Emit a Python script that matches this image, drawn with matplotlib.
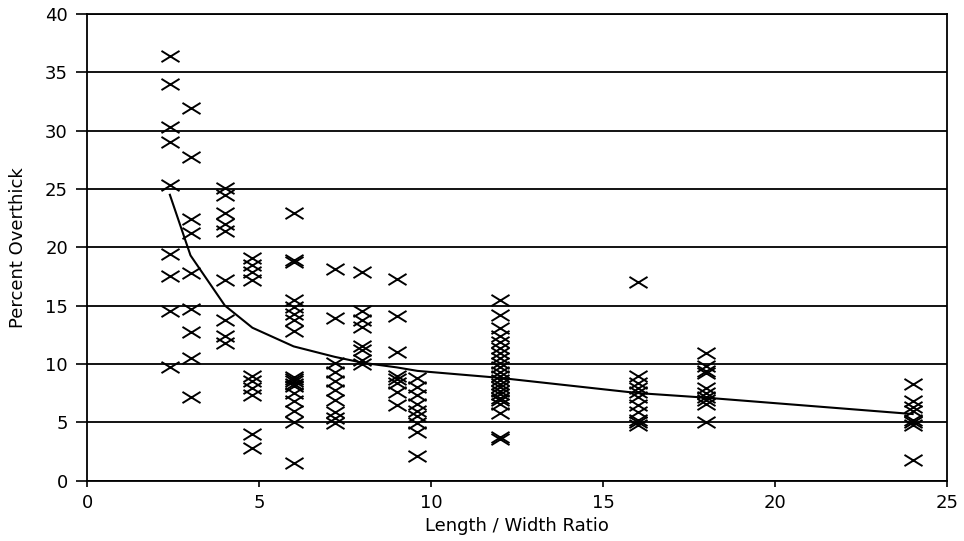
#overthick_ratio.py

from matplotlib import pyplot as plt
from matplotlib.path import Path
import numpy as np

# length / width ratio of each group of samples
ratios = [2.4, 3, 4, 4.8, 6, 7.2, 8, 9, 9.6, 12, 16, 18, 24]

# percent overthick measured at each ratio
pct_2_4 = [36.4, 34.0, 30.3, 29.0, 25.3, 19.4, 17.5, 14.5, 9.7]
pct_3 = [31.9, 27.7, 22.4, 21.2, 17.8, 14.7, 12.7, 10.5, 7.2]
pct_4 = [25.1, 24.5, 22.9, 22.0, 21.4, 17.2, 13.8, 12.4, 11.8]
pct_4_8 = [19.1, 18.5, 17.9, 17.2, 9.0, 8.5, 7.9, 7.3, 4.0, 2.8]
pct_6 = [22.9, 18.9, 18.7, 15.5, 14.9, 14.3, 13.8, 12.8, 8.9, 8.7, 8.5, 8.3, 8.1,
         7.5, 6.8, 6.0, 5.0, 1.5]
pct_7_2 = [18.1, 13.9, 10.1, 9.3, 8.5, 7.8, 6.9, 5.9, 5.4, 4.9]
pct_8 = [17.9, 14.5, 13.8, 13.2, 11.5, 11.2, 10.3, 10.0]
pct_9 = [17.3, 14.1, 11.0, 9.0, 8.7, 8.4, 7.6, 6.5]
pct_9_6 = [8.8, 8.0, 7.3, 6.6, 6.0, 5.5, 4.9, 4.2, 2.1]
pct_12 = [15.5, 14.2, 13.1, 12.4, 11.9, 11.4, 10.9, 10.5, 10.1, 9.7, 9.3, 9.0, 8.6,
          8.3, 8.0, 7.7, 7.4, 7.1, 6.9, 6.6, 5.8, 3.7, 3.6]
pct_16 = [17.0, 9.0, 8.4, 7.9, 7.6, 7.2, 6.5, 5.9, 5.2, 5.0, 4.8]
pct_18 = [10.9, 9.8, 9.4, 9.2, 7.9, 7.5, 7.2, 6.9, 6.6, 5.0]
pct_24 = [8.3, 6.8, 6.3, 6.0, 5.2, 5.0, 4.8, 1.8]

# fitted trend at each ratio
trend = [24.5, 19.3, 15.0, 13.1, 11.5, 10.6, 10.1, 9.7, 9.4, 8.8, 7.5, 7.1, 5.7]

groups = [pct_2_4, pct_3, pct_4, pct_4_8, pct_6, pct_7_2, pct_8, pct_9, pct_9_6,
          pct_12, pct_16, pct_18, pct_24]

#wide flat X marker like the old plotter output
cross = Path([(-1, -0.62), (1, 0.62), (-1, 0.62), (1, -0.62)],
             [Path.MOVETO, Path.LINETO, Path.MOVETO, Path.LINETO])

plt.rcParams['font.family'] = ['DejaVu Sans']

fig = plt.figure(figsize=(9.64, 5.41), dpi=100)
ax = fig.add_axes([0.0906, 0.1118, 0.8918, 0.8623])

for r, vals in zip(ratios, groups):
    ax.plot([r] * len(vals), vals, linestyle='none', marker=cross, markersize=13,
            markeredgewidth=1.4, color='black', zorder=3)

ax.plot(ratios, trend, color='black', linewidth=1.5, zorder=2)

ax.set_xlim(0, 25)
ax.set_ylim(0, 40)
ax.set_xticks(np.arange(0, 26, 5))
ax.set_yticks(np.arange(0, 41, 5))
ax.yaxis.grid(True, color='black', linewidth=1.3)
ax.set_axisbelow(True)
for side in ['left', 'right', 'top', 'bottom']:
    ax.spines[side].set_linewidth(1.3)
ax.tick_params(axis='y', direction='out', length=8, width=1.2, pad=6, labelsize=13)
ax.tick_params(axis='x', direction='out', length=4, width=1.2, pad=6, labelsize=13)
ax.set_xlabel('Length / Width Ratio', fontsize=13, labelpad=3)
ax.set_ylabel('Percent Overthick', fontsize=13, labelpad=13)

plt.savefig('out.png', dpi=100)
